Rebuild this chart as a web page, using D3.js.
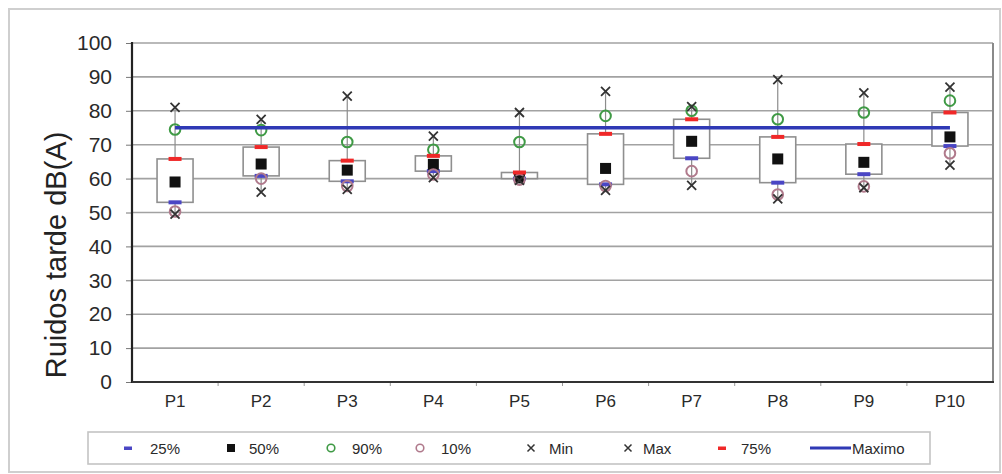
<!DOCTYPE html>
<html><head><meta charset="utf-8">
<script src="https://cdn.jsdelivr.net/npm/d3@7"></script>
<style>html,body{margin:0;padding:0;background:#fff;}svg{display:block;font-family:"Liberation Sans",Arial,sans-serif;}</style>
</head><body><svg id="c" width="1002" height="474"></svg>
<script>
const categories = ["P1","P2","P3","P4","P5","P6","P7","P8","P9","P10"];
const p25 = [53, 60.8, 59.2, 62.2, 60, 58.3, 66, 58.8, 61.3, 69.6];
const p50 = [59, 64.3, 62.5, 64.2, 60.2, 63, 71, 65.8, 64.8, 72.3];
const p90 = [74.5, 74.3, 70.8, 68.5, 70.8, 78.5, 80, 77.5, 79.5, 83];
const p10 = [50.3, 60, 57.8, 61.2, 59.7, 57.8, 62.2, 55.3, 57.7, 67.5];
const minV = [49.5, 56, 56.8, 60.3, 59.5, 56.5, 58, 54, 57.3, 64];
const maxV = [81, 77.5, 84.3, 72.5, 79.5, 85.7, 81.2, 89.2, 85.3, 87];
const p75 = [65.8, 69.3, 65.3, 66.7, 61.8, 73.2, 77.5, 72.3, 70.2, 79.5];
const maximo = [75, 75, 75, 75, 75, 75, 75, 75, 75, 75];
const yTicks = [0,10,20,30,40,50,60,70,80,90,100];
const legendLabels = ["25%","50%","90%","10%","Min","Max","75%","Maximo"];
const yTitle = "Ruidos tarde dB(A)";

const svg = d3.select("#c");
const L = 132, R = 993, T = 43, B = 382;
const x = d3.scaleBand().domain(categories).range([L, R]).padding(0);
const y = d3.scaleLinear().domain([0, 100]).range([B, T]);
const cx = c => x(c) + x.bandwidth() / 2;

const col = {blue:"#4a46c4", red:"#f02828", green:"#3f9a45", pink:"#b07a8c", black:"#111", line:"#2f39b5"};

// outer frame
svg.append("rect").attr("x",9).attr("y",9).attr("width",991).attr("height",463)
  .attr("fill","none").attr("stroke","#cfcfcf").attr("stroke-width",2);

// gridlines
svg.append("g").selectAll("line").data(yTicks.filter(d => d > 0)).join("line")
  .attr("x1", L).attr("x2", R).attr("y1", d => y(d)).attr("y2", d => y(d))
  .attr("stroke", "#a2a2a2").attr("stroke-width", 1.6);
// right border
svg.append("line").attr("x1",R).attr("x2",R).attr("y1",T).attr("y2",B).attr("stroke","#8a8a8a").attr("stroke-width",2);

// y axis
const yAxis = svg.append("g").attr("transform", `translate(${L},0)`)
  .call(d3.axisLeft(y).tickValues(yTicks).tickSize(6).tickPadding(14).tickFormat(d3.format("d")));
yAxis.select(".domain").remove();
yAxis.selectAll(".tick line").attr("stroke", "#777");
yAxis.selectAll("text").attr("font-size", 21).attr("fill", "#2a2a2a").attr("font-family","Liberation Sans, Arial, sans-serif");

// x axis
const xAxis = svg.append("g").attr("transform", `translate(0,${B})`)
  .call(d3.axisBottom(x).tickSize(0).tickPadding(13));
xAxis.select(".domain").remove();
xAxis.selectAll("text").attr("font-size", 17).attr("fill", "#2a2a2a").attr("font-family","Liberation Sans, Arial, sans-serif");
svg.append("g").selectAll("line").data(categories.slice(1)).join("line")
  .attr("x1", d => x(d)).attr("x2", d => x(d)).attr("y1", B).attr("y2", B + 4)
  .attr("stroke", "#999").attr("stroke-width", 1);

// axis lines
svg.append("line").attr("x1",L).attr("x2",L).attr("y1",T-1).attr("y2",B+1).attr("stroke","#222").attr("stroke-width",2.2);
svg.append("line").attr("x1",L).attr("x2",R+1).attr("y1",B).attr("y2",B).attr("stroke","#333").attr("stroke-width",2.2);

// y title
svg.append("text").attr("transform", `translate(56,255) rotate(-90)`)
  .attr("text-anchor","middle").attr("dominant-baseline","central")
  .attr("font-size", 29).attr("fill","#222").text(yTitle);

// whiskers
const idx = d3.range(categories.length);
svg.append("g").selectAll("line").data(idx).join("line")
  .attr("x1", i => cx(categories[i])).attr("x2", i => cx(categories[i]))
  .attr("y1", i => y(minV[i])).attr("y2", i => y(maxV[i]))
  .attr("stroke", "#8c8c8c").attr("stroke-width", 1.2);

// boxes
const bw = 36;
svg.append("g").selectAll("rect").data(idx).join("rect")
  .attr("x", i => cx(categories[i]) - bw/2).attr("width", bw)
  .attr("y", i => y(p75[i])).attr("height", i => y(p25[i]) - y(p75[i]))
  .attr("fill", "#fff").attr("stroke", "#8f8f8f").attr("stroke-width", 1.6);

function dash(g, vals, color) {
  g.selectAll(null).data(idx).join("rect")
    .attr("x", i => cx(categories[i]) - 6.5).attr("width", 13)
    .attr("y", i => y(vals[i]) - 2).attr("height", 4).attr("fill", color);
}
function circles(g, vals, color) {
  g.selectAll(null).data(idx).join("circle")
    .attr("cx", i => cx(categories[i])).attr("cy", i => y(vals[i])).attr("r", 5.3)
    .attr("fill", "none").attr("stroke", color).attr("stroke-width", 2);
}
function crosses(g, vals, color) {
  const s = 4.5;
  g.selectAll(null).data(idx).join("path")
    .attr("d", i => { const a = cx(categories[i]), b = y(vals[i]);
      return `M${a-s},${b-s}L${a+s},${b+s}M${a-s},${b+s}L${a+s},${b-s}`; })
    .attr("stroke", color).attr("stroke-width", 1.8).attr("fill","none");
}
const gm = svg.append("g");
dash(gm.append("g"), p25, col.blue);
gm.append("g").selectAll("rect").data(idx).join("rect")
  .attr("x", i => cx(categories[i]) - 5.5).attr("y", i => y(p50[i]) - 5.5)
  .attr("width", 11).attr("height", 11).attr("fill", col.black);
circles(gm.append("g"), p90, col.green);
circles(gm.append("g"), p10, col.pink);
crosses(gm.append("g"), minV, "#333");
crosses(gm.append("g"), maxV, "#333");
dash(gm.append("g"), p75, col.red);

// Maximo line
svg.append("path").datum(idx)
  .attr("d", d3.line().x(i => cx(categories[i])).y(i => y(maximo[i])))
  .attr("stroke", col.line).attr("stroke-width", 3.5).attr("fill", "none");

// legend
const lg = svg.append("g");
lg.append("rect").attr("x",88).attr("y",432).attr("width",842).attr("height",32)
  .attr("fill","#fff").attr("stroke","#c4c4c4").attr("stroke-width",1.6);
const ly = 448;
const markerX = [128, 231, 331, 420, 531, 628, 722, 830];
const textX = [150, 249, 352, 441, 549, 643, 741, 852];
const kinds = ["dashB","square","circG","circP","cross","cross","dashR","line"];
kinds.forEach((k, i) => {
  const m = markerX[i];
  if (k === "dashB" || k === "dashR") lg.append("rect").attr("x", m-4).attr("y", ly-1.5).attr("width", 8).attr("height", 3.5).attr("fill", k === "dashB" ? col.blue : col.red);
  if (k === "square") lg.append("rect").attr("x", m-4).attr("y", ly-4).attr("width", 8).attr("height", 8).attr("fill", col.black);
  if (k === "circG" || k === "circP") lg.append("circle").attr("cx", m).attr("cy", ly).attr("r", 3.8).attr("fill","none").attr("stroke", k === "circG" ? col.green : col.pink).attr("stroke-width", 1.6);
  if (k === "cross") lg.append("path").attr("d", `M${m-3.5},${ly-3.5}L${m+3.5},${ly+3.5}M${m-3.5},${ly+3.5}L${m+3.5},${ly-3.5}`).attr("stroke","#333").attr("stroke-width",1.5);
  if (k === "line") lg.append("line").attr("x1", m-20).attr("x2", m+21).attr("y1", ly).attr("y2", ly).attr("stroke", col.line).attr("stroke-width", 3);
  lg.append("text").attr("x", textX[i]).attr("y", ly).attr("dominant-baseline","central")
    .attr("font-size", 15).attr("fill", "#2a2a2a").text(legendLabels[i]);
});
</script></body></html>
